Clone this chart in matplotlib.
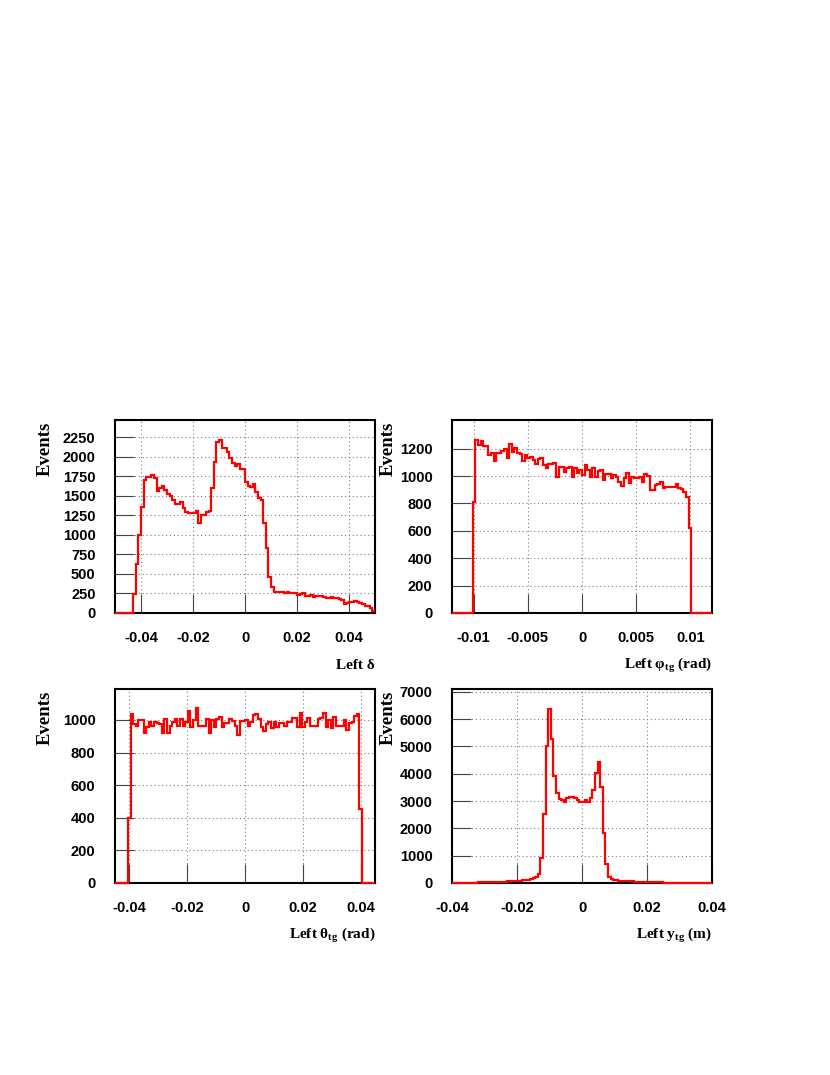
import numpy as np
import matplotlib
matplotlib.use("Agg")
import matplotlib.pyplot as plt
from matplotlib.font_manager import FontProperties

plt.rcParams['mathtext.fontset'] = 'custom'
plt.rcParams['mathtext.rm'] = 'Liberation Serif:bold'
plt.rcParams['mathtext.it'] = 'Liberation Serif:bold'
plt.rcParams['mathtext.bf'] = 'Liberation Serif:bold'

# ---------------- data ----------------
# Panel 1: Left delta, 100 bins in [-0.05, 0.05]
delta_range = (-0.05, 0.05)
delta_counts = [0, 0, 0, 0, 0, 0, 0, 240, 630, 1000,
                1355, 1700, 1740, 1740, 1765, 1730, 1560, 1600, 1625, 1570,
                1520, 1500, 1440, 1400, 1400, 1420, 1345, 1295, 1285, 1285,
                1275, 1310, 1150, 1255, 1255, 1290, 1305, 1600, 1930, 2185,
                2210, 2110, 2110, 2060, 1980, 1925, 1880, 1905, 1845, 1845,
                1675, 1620, 1610, 1645, 1550, 1470, 1440, 1155, 835, 455,
                335, 268, 268, 265, 270, 262, 265, 258, 255, 250,
                230, 245, 255, 222, 215, 230, 210, 222, 218, 215,
                208, 195, 196, 200, 192, 188, 178, 170, 118, 130,
                145, 145, 150, 145, 128, 110, 95, 85, 60, 30]
delta_xticks = [-0.04, -0.02, 0, 0.02, 0.04]
delta_xticklabels = ["-0.04", "-0.02", "0", "0.02", "0.04"]
delta_yticks = [0, 250, 500, 750, 1000, 1250, 1500, 1750, 2000, 2250]

# Panel 2: Left phi_tg, 100 bins in [-0.012, 0.012]
phi_range = (-0.012, 0.012)
phi_counts = [0, 0, 0, 0, 0, 0, 0, 0, 810, 1264,
              1230, 1256, 1222, 1222, 1154, 1166, 1110, 1166, 1166, 1183,
              1198, 1135, 1232, 1174, 1203, 1166, 1159, 1112, 1154, 1135,
              1142, 1118, 1086, 1125, 1130, 1081, 1061, 1086, 1086, 1093,
              996, 1069, 1069, 1027, 1057, 1069, 996, 1057, 1020, 1044,
              1008, 1081, 1044, 996, 1057, 996, 1037, 1044, 971, 1013,
              1013, 988, 1008, 996, 959, 930, 983, 1020, 947, 996,
              983, 983, 996, 959, 1013, 1003, 898, 898, 935, 940,
              954, 915, 922, 922, 922, 922, 940, 915, 905, 881,
              849, 620, 0, 0, 0, 0, 0, 0, 0, 0]
phi_xticks = [-0.01, -0.005, 0, 0.005, 0.01]
phi_xticklabels = ["-0.01", "-0.005", "0", "0.005", "0.01"]
phi_yticks = [0, 200, 400, 600, 800, 1000, 1200]

# Panel 3: Left theta_tg, 100 bins in [-0.045, 0.045]
theta_range = (-0.045, 0.045)
theta_counts = [0, 0, 0, 0, 0, 400, 1037, 975, 965, 1000,
                1000, 918, 955, 990, 960, 990, 980, 975, 918, 1006,
                918, 965, 985, 1006, 965, 1006, 960, 990, 1057, 955,
                1000, 1071, 965, 965, 965, 1006, 918, 1000, 955, 1006,
                1020, 955, 980, 980, 1006, 995, 965, 910, 995, 995,
                1000, 960, 985, 1030, 1035, 1005, 955, 935, 975, 990,
                950, 990, 955, 980, 980, 965, 985, 985, 1010, 1010,
                955, 1040, 955, 990, 1015, 965, 965, 965, 1005, 1010,
                1040, 955, 1000, 950, 1020, 965, 965, 965, 1000, 940,
                980, 990, 1025, 1037, 455, 0, 0, 0, 0, 0]
theta_xticks = [-0.04, -0.02, 0, 0.02, 0.04]
theta_xticklabels = ["-0.04", "-0.02", "0", "0.02", "0.04"]
theta_yticks = [0, 200, 400, 600, 800, 1000]

# Panel 4: Left y_tg, 100 bins in [-0.04, 0.04]
ytg_range = (-0.04, 0.04)
ytg_counts = [0, 0, 2, 3, 5, 8, 10, 12, 15, 18,
              20, 22, 25, 28, 30, 32, 35, 38, 40, 45,
              50, 55, 60, 62, 66, 70, 90, 100, 110, 115,
              150, 170, 230, 320, 900, 2510, 5010, 6370, 5270, 3930,
              3310, 3075, 3050, 2980, 3100, 3130, 3160, 3100, 3050, 2980,
              2950, 3050, 2950, 3100, 3400, 4010, 4420, 3500, 1820, 695,
              210, 145, 110, 95, 85, 75, 70, 65, 60, 55,
              50, 45, 40, 38, 35, 32, 30, 28, 25, 22,
              20, 18, 16, 15, 14, 12, 10, 9, 8, 7,
              6, 5, 5, 4, 3, 3, 2, 2, 1, 1]
ytg_xticks = [-0.04, -0.02, 0, 0.02, 0.04]
ytg_xticklabels = ["-0.04", "-0.02", "0", "0.02", "0.04"]
ytg_yticks = [0, 1000, 2000, 3000, 4000, 5000, 6000, 7000]

# ---------------- figure ----------------
W, H = 830, 1075
fig = plt.figure(figsize=(W / 100, H / 100), dpi=100)

def frac(l, t, r, b):
    return [l / W, 1 - b / H, (r - l) / W, (b - t) / H]

tick_fp = FontProperties(family='Liberation Sans', weight='bold', size=10.5)
xlabel_font = dict(family='Liberation Serif', weight='bold', size=11)
ylabel_font = dict(family='Liberation Serif', weight='bold', size=13.5)

panels = [
    (frac(115, 420, 375, 613), delta_range, delta_counts, delta_xticks, delta_xticklabels,
     delta_yticks, 2470, 'Left δ', -50),
    (frac(452, 420, 712, 613), phi_range, phi_counts, phi_xticks, phi_xticklabels,
     phi_yticks, 1410, r'Left φ$_{\mathrm{tg}}$ (rad)', -46),
    (frac(115, 689, 375, 883), theta_range, theta_counts, theta_xticks, theta_xticklabels,
     theta_yticks, 1190, r'Left θ$_{\mathrm{tg}}$ (rad)', -50),
    (frac(452, 689, 712, 883), ytg_range, ytg_counts, ytg_xticks, ytg_xticklabels,
     ytg_yticks, 7100, r'Left y$_{\mathrm{tg}}$ (m)', -46),
]

for rect, rng, counts, xt, xtl, yt, ymax, xlabel, ylab_off in panels:
    ax = fig.add_axes(rect)
    edges = np.linspace(rng[0], rng[1], len(counts) + 1)
    ax.stairs(counts, edges, color='#ff0000', linewidth=1.6, baseline=None,
              zorder=3, clip_on=False)
    ax.set_xlim(rng)
    ax.set_ylim(0, ymax)
    ax.set_xticks(xt)
    ax.set_xticklabels(xtl)
    ax.set_yticks(yt)
    ax.set_yticklabels([str(v) for v in yt])
    for lab in ax.get_xticklabels() + ax.get_yticklabels():
        lab.set_fontproperties(tick_fp)
    ax.tick_params(axis='both', direction='in', length=14, width=0.8,
                   color='#444444')
    ax.tick_params(axis='y', pad=14)
    ax.tick_params(axis='x', pad=13)
    ax.grid(True, color='#808080', linestyle=(0, (1, 2.5)), linewidth=0.8)
    ax.set_axisbelow(True)
    for sp in ax.spines.values():
        sp.set_linewidth(1.5)
        sp.set_color('black')
        sp.set_zorder(2.5)
    ax.annotate(xlabel, xy=(1, 0), xycoords='axes fraction',
                xytext=(0, -37.5), textcoords='offset points',
                ha='right', va='center', **xlabel_font)
    ax.annotate('Events', xy=(0, 1), xycoords='axes fraction',
                xytext=(ylab_off, -1), textcoords='offset points',
                ha='center', va='top', rotation=90, **ylabel_font)

fig.savefig('out.png', dpi=100, facecolor='white')
